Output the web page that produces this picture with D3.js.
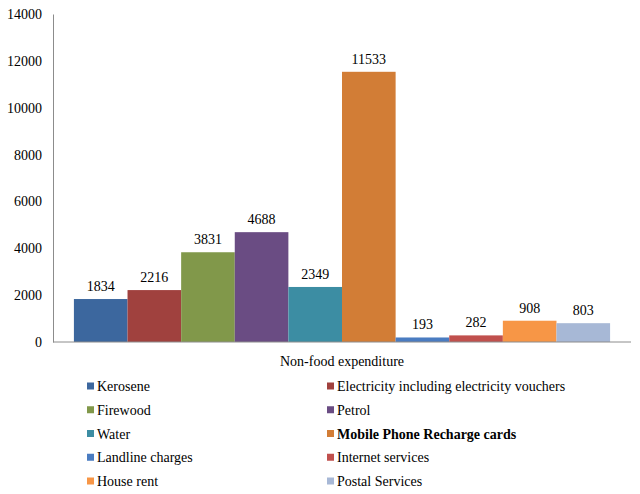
<!DOCTYPE html>
<html>
<head>
<meta charset="utf-8">
<script src="https://cdn.jsdelivr.net/npm/d3@7"></script>
<style>
  svg text, svg .tick text { font-family: 'Liberation Serif' !important; }
</style>
</head>
<body style="margin:0;background:#fff">
<svg id="chart"></svg>
<script>
// Data
const categories = ['Kerosene', 'Electricity including electricity vouchers', 'Firewood', 'Petrol',
  'Water', 'Mobile Phone Recharge cards', 'Landline charges', 'Internet services', 'House rent', 'Postal Services'];
const values = [1834, 2216, 3831, 4688, 2349, 11533, 193, 282, 908, 803];
const colors = ['#3C679E', '#A0413E', '#81984A', '#6A4C83', '#3C8DA3', '#D27D36', '#4A7CC1', '#C0504D', '#F79646', '#A7B8D6'];
const yTicks = [0, 2000, 4000, 6000, 8000, 10000, 12000, 14000];
const groupLabel = 'Non-food expenditure';
const boldItem = 'Mobile Phone Recharge cards';

const fontStyle = "font-family:'Liberation Serif';font-size:14px";

// Dimensions
const w = 640;
const h = 494;
const plotLeft = 53, plotRight = 631, plotTop = 14, plotBottom = 342;

const svg = d3.select('#chart')
  .attr('width', w)
  .attr('height', h);

// Scales
const x = d3.scaleBand()
  .domain(categories)
  .range([plotLeft, plotRight])
  .paddingInner(0)
  .paddingOuter(0.39);

const y = d3.scaleLinear()
  .domain([0, 14000])
  .range([plotBottom, plotTop]);

// Y axis
const yAxis = d3.axisLeft(y).tickValues(yTicks).tickSize(0).tickPadding(11).tickFormat(d3.format('d'));
const gy = svg.append('g')
  .attr('transform', `translate(${plotLeft},0)`)
  .call(yAxis)
  .attr('font-family', 'Liberation Serif')
  .attr('font-size', 14);
gy.select('.domain').attr('stroke', '#8c8c8c');
gy.selectAll('text')
  .attr('fill', '#000')
  .attr('style', fontStyle);

// Bars
svg.selectAll('rect.bar')
  .data(values)
  .enter()
  .append('rect')
  .attr('class', 'bar')
  .attr('x', (d, i) => x(categories[i]))
  .attr('y', d => y(d))
  .attr('width', x.bandwidth())
  .attr('height', d => y(0) - y(d))
  .attr('fill', (d, i) => colors[i]);

// Baseline
svg.append('line')
  .attr('x1', plotLeft).attr('x2', plotRight)
  .attr('y1', y(0)).attr('y2', y(0))
  .attr('stroke', '#8c8c8c');

// Value labels
svg.selectAll('text.val')
  .data(values)
  .enter()
  .append('text')
  .attr('class', 'val')
  .attr('x', (d, i) => x(categories[i]) + x.bandwidth() / 2)
  .attr('y', d => y(d) - 8)
  .attr('text-anchor', 'middle')
  .attr('style', fontStyle)
  .text(d => d);

// Category label
svg.append('text')
  .attr('x', (plotLeft + plotRight) / 2)
  .attr('y', 366)
  .attr('text-anchor', 'middle')
  .attr('style', fontStyle)
  .text(groupLabel);

// Legend
const legend = svg.append('g').attr('id', 'legend');
const item = legend.selectAll('g')
  .data(categories)
  .enter()
  .append('g')
  .attr('transform', (d, i) => `translate(${i % 2 ? 327 : 87},${386 + Math.floor(i / 2) * 23.75})`);

item.append('rect')
  .attr('x', 0).attr('y', -3.5)
  .attr('width', 7).attr('height', 7)
  .attr('fill', (d, i) => colors[i]);

item.append('text')
  .attr('x', 10)
  .attr('y', 5)
  .attr('style', d => fontStyle + (d === boldItem ? ';font-weight:bold' : ''))
  .text(d => d);
</script>
</body>
</html>
